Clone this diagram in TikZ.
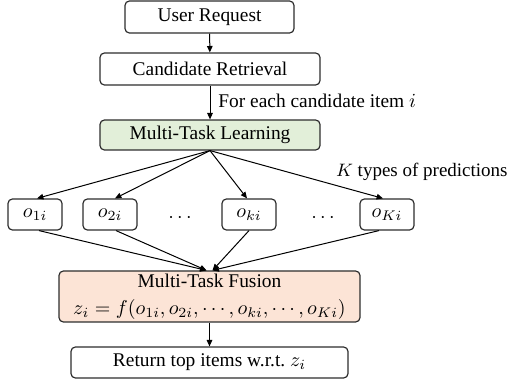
\documentclass[tikz,border=0pt]{standalone}
\usepackage{fontspec}
\setmainfont{Liberation Serif}
\usetikzlibrary{arrows.meta}
\definecolor{edge}{HTML}{2E2E2E}
\definecolor{learnfill}{HTML}{E2EFD9}
\definecolor{fusefill}{HTML}{FCE4D6}
\tikzset{
  box/.style={draw=edge, line width=0.6pt, rounded corners=2.2pt, fill=white,
    inner sep=0pt, align=center, font=\fontsize{9.7}{13.5}\selectfont},
  obox/.style={box, minimum width=27pt, minimum height=15.5pt},
  flow/.style={-{Triangle[length=3.2pt,width=2.8pt]}, line width=0.5pt, draw=black},
  lbl/.style={font=\fontsize{9.7}{11.6}\selectfont, inner sep=0pt}
}
\begin{document}
\begin{tikzpicture}[x=0.5pt, y=-0.5pt]
  \useasboundingbox (0,0) rectangle (509,383);
  % pipeline stages
  \node[box, minimum width=84.5pt, minimum height=16pt] (user) at (209.5,17) {User Request};
  \node[box, minimum width=110pt, minimum height=16pt] (cand) at (210,69) {Candidate Retrieval};
  \node[box, fill=learnfill, minimum width=110pt, minimum height=15pt] (mtl) at (210,135) {Multi-Task Learning};
  % per-task predictions
  \node[obox] (o1) at (35,214.5) {$o_{1i}$};
  \node[obox] (o2) at (110,214.5) {$o_{2i}$};
  \node[obox] (ok) at (249,214.5) {$o_{ki}$};
  \node[obox] (oK) at (387,214.5) {$o_{Ki}$};
  \node[lbl] (d1) at (180,218) {$\cdots$};
  \node[lbl] (d2) at (323,218) {$\cdots$};
  % fusion and output
  \node[box, fill=fusefill, minimum width=150.5pt, minimum height=25.5pt] (fuse) at (209.5,296.5)
    {Multi-Task Fusion\\ $z_i = f(o_{1i}, o_{2i}, \cdots, o_{ki}, \cdots, o_{Ki})$};
  \node[box, minimum width=138.5pt, minimum height=15.5pt] (ret) at (209.5,362.5) {Return top items w.r.t.\ $z_i$};
  % labels
  \node[lbl, anchor=west] (each) at (218,101) {For each candidate item $i$};
  \node[lbl, font=\fontsize{9.5}{11.4}\selectfont, anchor=east] (ktypes) at (508,172) {$K$ types of predictions};
  % connectors
  \draw[flow] (user) -- (cand);
  \draw[flow] (cand) -- (mtl);
  \coordinate (fan) at (mtl.south);
  \draw[flow] (fan) -- ([xshift=1pt]o1.north);
  \draw[flow] (fan) -- ([xshift=2.5pt]o2.north);
  \draw[flow] (fan) -- ([xshift=-1pt]ok.north);
  \draw[flow] (fan) -- ([xshift=-2pt]oK.north);
  \coordinate (inL) at ([xshift=-1.5pt]fuse.north);
  \coordinate (inR) at ([xshift=1.5pt]fuse.north);
  \draw[flow] ([xshift=2pt]o1.south) -- (inL);
  \draw[flow] ([xshift=3pt]o2.south) -- (inL);
  \draw[flow] (ok.south) -- (inR);
  \draw[flow] ([xshift=-4pt]oK.south) -- (inR);
  \draw[flow] (fuse) -- (ret);
\end{tikzpicture}
\end{document}
